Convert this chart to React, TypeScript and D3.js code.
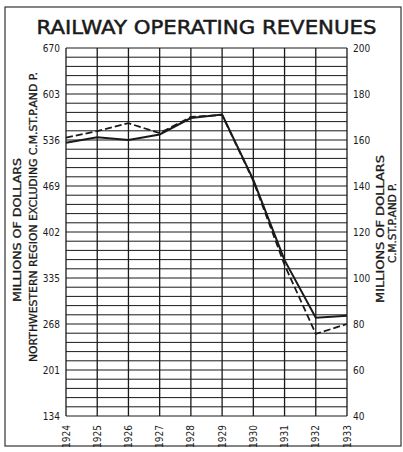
import React, { useRef, useEffect } from 'react';
import * as d3 from 'd3';

// years along the bottom
const years = [1924, 1925, 1926, 1927, 1928, 1929, 1930, 1931, 1932, 1933];
// Northwestern region excluding C.M.St.P. and P. (left axis, millions)
const northwestern = [532, 540, 536, 544, 568, 573, 478, 361, 277, 280];
// C.M.St.P. and P. (right axis, millions)
const cmstp = [161, 163.9, 167.3, 163, 170, 170.9, 142.2, 105.7, 75.7, 80];
// tick labels
const leftTicks = [134, 201, 268, 335, 402, 469, 536, 603, 670];
const rightTicks = [40, 60, 80, 100, 120, 140, 160, 180, 200];

const App = () => {
  const svgRef = useRef<SVGSVGElement>(null);

  useEffect(() => {
    const width = 403;
    const height = 452;
    const margin = { top: 48, right: 56, bottom: 36, left: 66 };
    const font = '"DejaVu Sans Condensed", "DejaVu Sans", sans-serif';
    const ink = '#1a1a1a';

    const svg = d3.select(svgRef.current)
      .attr('width', width)
      .attr('height', height)
      .style('background', 'white');
    svg.selectAll('*').remove();

    const x = d3.scaleLinear().domain([1924, 1933]).range([margin.left, width - margin.right]);
    const yLeft = d3.scaleLinear().domain([134, 670]).range([height - margin.bottom, margin.top]);
    const yRight = d3.scaleLinear().domain([40, 200]).range([height - margin.bottom, margin.top]);

    // outer frame
    svg.append('rect')
      .attr('x', 5).attr('y', 7)
      .attr('width', 396).attr('height', 439)
      .attr('fill', 'none')
      .attr('stroke', '#333')
      .attr('stroke-width', 1.2);

    // title
    svg.append('text')
      .attr('x', width / 2 + 5)
      .attr('y', 34)
      .attr('text-anchor', 'middle')
      .attr('fill', ink)
      .attr('stroke', ink)
      .attr('stroke-width', 0.5)
      .attr('textLength', 340)
      .attr('lengthAdjust', 'spacingAndGlyphs')
      .style('font-family', '"DejaVu Sans", sans-serif')
      .style('font-size', '19px')
      .text('RAILWAY OPERATING REVENUES');

    // horizontal grid, one line every 4 on the right scale
    svg.append('g')
      .selectAll('line')
      .data(d3.range(40, 201, 4))
      .join('line')
      .attr('x1', x(1924))
      .attr('x2', x(1933))
      .attr('y1', d => yRight(d))
      .attr('y2', d => yRight(d))
      .attr('stroke', ink)
      .attr('stroke-width', 1);

    // vertical grid
    svg.append('g')
      .selectAll('line')
      .data(years)
      .join('line')
      .attr('x1', d => x(d))
      .attr('x2', d => x(d))
      .attr('y1', yLeft(670))
      .attr('y2', yLeft(134))
      .attr('stroke', ink)
      .attr('stroke-width', 1.3);

    // left tick labels
    svg.append('g')
      .selectAll('text')
      .data(leftTicks)
      .join('text')
      .attr('x', margin.left - 6)
      .attr('y', d => yLeft(d))
      .attr('dy', '0.35em')
      .attr('text-anchor', 'end')
      .attr('fill', ink)
      .style('font-family', font)
      .style('font-size', '10px')
      .text(d => d);

    // right tick labels
    svg.append('g')
      .selectAll('text')
      .data(rightTicks)
      .join('text')
      .attr('x', width - margin.right + 6)
      .attr('y', d => yRight(d))
      .attr('dy', '0.35em')
      .attr('text-anchor', 'start')
      .attr('fill', ink)
      .style('font-family', font)
      .style('font-size', '10px')
      .text(d => d);

    // year labels, rotated
    svg.append('g')
      .selectAll('text')
      .data(years)
      .join('text')
      .attr('transform', d => `translate(${x(d)},${height - margin.bottom + 9}) rotate(-90)`)
      .attr('dy', '0.35em')
      .attr('text-anchor', 'end')
      .attr('fill', ink)
      .style('font-family', font)
      .style('font-size', '10px')
      .text(d => d);

    // axis titles
    const vText = (cx: number, cy: number, len: number, txt: string) => {
      svg.append('text')
        .attr('transform', `translate(${cx},${cy}) rotate(-90)`)
        .attr('text-anchor', 'middle')
        .attr('dy', '0.35em')
        .attr('fill', ink)
        .attr('stroke', ink)
        .attr('stroke-width', 0.3)
        .attr('textLength', len)
        .attr('lengthAdjust', 'spacingAndGlyphs')
        .style('font-family', '"DejaVu Sans", sans-serif')
        .style('font-size', '10px')
        .text(txt);
    };
    vText(17, 230, 144, 'MILLIONS OF DOLLARS');
    vText(33, 217, 290, 'NORTHWESTERN REGION  EXCLUDING  C.M.ST.P.AND P.');
    vText(380, 229, 148, 'MILLIONS OF DOLLARS');
    vText(392, 223, 80, 'C.M.ST.P.AND P.');

    // lines
    const lineLeft = d3.line<number>()
      .x((d, i) => x(years[i]))
      .y(d => yLeft(d));
    const lineRight = d3.line<number>()
      .x((d, i) => x(years[i]))
      .y(d => yRight(d));

    svg.append('path')
      .datum(northwestern)
      .attr('fill', 'none')
      .attr('stroke', ink)
      .attr('stroke-width', 2)
      .attr('d', lineLeft);

    svg.append('path')
      .datum(cmstp)
      .attr('fill', 'none')
      .attr('stroke', ink)
      .attr('stroke-width', 1.8)
      .attr('stroke-dasharray', '7,3')
      .attr('d', lineRight);
  }, []);

  return <svg ref={svgRef} style={{ display: 'block', position: 'absolute', left: 0, top: 0 }}></svg>;
};

export default App;
